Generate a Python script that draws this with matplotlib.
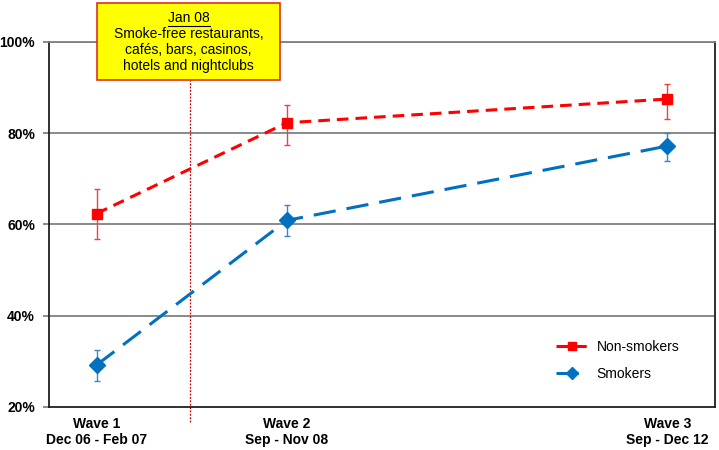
import numpy as np
from matplotlib import pyplot as plt
from matplotlib.patches import Rectangle

plt.rcParams['font.family'] = ['Liberation Sans', 'DejaVu Sans']

# wave positions (wave 3 sits two steps after wave 2)
wave_x = [1, 2, 4]
wave_labels = ['Wave 1\nDec 06 - Feb 07', 'Wave 2\nSep - Nov 08', 'Wave 3\nSep - Dec 12']

non_smokers = [62.4, 82.3, 87.5]
non_smokers_lo = [56.9, 77.4, 83.1]
non_smokers_hi = [67.7, 86.3, 90.9]

smokers = [29.2, 60.9, 77.2]
smokers_lo = [25.7, 57.4, 73.9]
smokers_hi = [32.6, 64.3, 80.1]

ban_x = 1.49  # Jan 08
y_ticks = [20, 40, 60, 80, 100]

red = '#FF0000'
blue = '#0070C0'

W, H = 719, 450
fig = plt.figure(figsize=(W / 100, H / 100), dpi=100)
ax = fig.add_axes([49 / W, 43 / H, 666 / W, 365 / H])

for yv in y_ticks[1:]:
    ax.axhline(yv, color='#808080', lw=1.3, zorder=1)

ax.errorbar(wave_x, non_smokers,
            yerr=[np.subtract(non_smokers, non_smokers_lo), np.subtract(non_smokers_hi, non_smokers)],
            fmt='none', ecolor='#F04040', elinewidth=1, capsize=2.3, capthick=1, zorder=3)
ax.errorbar(wave_x, smokers,
            yerr=[np.subtract(smokers, smokers_lo), np.subtract(smokers_hi, smokers)],
            fmt='none', ecolor='#3A86C8', elinewidth=1, capsize=2.3, capthick=1, zorder=3)

ax.plot(wave_x, non_smokers, color=red, lw=2.2, dashes=(3.8, 2.3), marker='s', ms=7.5,
        label='Non-smokers', zorder=4)
ax.plot(wave_x, smokers, color=blue, lw=2.2, dashes=(7.3, 3.6), marker='D', ms=8,
        label='Smokers', zorder=4)

ax.axvline(ban_x, color='#C00000', lw=0.9, ls=(0, (1.5, 1.2)), ymin=-0.041, clip_on=False, zorder=2)

ax.set_xlim(0.75, 4.25)
ax.set_ylim(20, 100)
ax.set_yticks(y_ticks)
ax.set_yticklabels([f'{v}%' for v in y_ticks], fontweight='bold', fontsize=10)
ax.set_xticks(wave_x)
ax.set_xticklabels(wave_labels, fontweight='bold', fontsize=10, linespacing=1.2)
ax.tick_params(axis='x', length=0, pad=7)
ax.tick_params(axis='y', length=4, width=1.3, color='#808080', pad=6)

for side in ['left', 'right', 'bottom']:
    ax.spines[side].set_color('#202020')
    ax.spines[side].set_linewidth(1.3)
ax.spines['top'].set_color('#808080')
ax.spines['top'].set_linewidth(1.3)

ax.legend(loc='center left', bbox_to_anchor=(0.761, 0.127), frameon=False, fontsize=10,
          borderaxespad=0, borderpad=0, handlelength=2.3, handletextpad=0.65,
          labelspacing=0.95, markerscale=0.8)

# annotation box for the Jan 08 law (pixel layout from the top-left corner)
box_l, box_r, box_t, box_b = 97, 280, 3, 80
fig.patches.append(Rectangle((box_l / W, 1 - box_b / H), (box_r - box_l) / W, (box_b - box_t) / H,
                             transform=fig.transFigure, fc='#FFFF00', ec='#E03020', lw=1.2, zorder=6))
cx = (box_l + box_r) / 2 / W
box_lines = ['Jan 08', 'Smoke-free restaurants,', 'cafés, bars, casinos,', 'hotels and nightclubs']
for i, line in enumerate(box_lines):
    fig.text(cx, 1 - (18 + 16 * i) / H, line, ha='center', va='center', fontsize=10, zorder=7)
fig.add_artist(plt.Line2D([168 / W, 210 / W], [1 - 25.5 / H, 1 - 25.5 / H], color='black', lw=0.8, zorder=7))

fig.savefig('out.png', dpi=100)
